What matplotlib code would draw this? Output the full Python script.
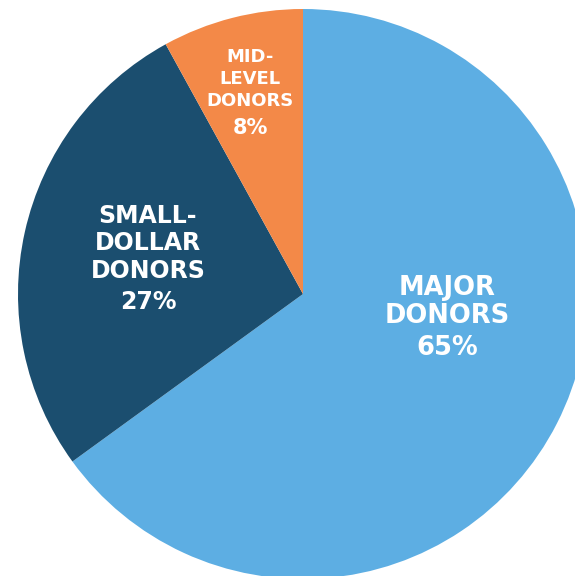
import matplotlib
matplotlib.use("Agg")
import matplotlib.pyplot as plt

# donor share of total giving
segments = ["MAJOR\nDONORS", "SMALL-\nDOLLAR\nDONORS", "MID-\nLEVEL\nDONORS"]
shares = [65, 27, 8]
colors = ["#5DAEE3", "#1B4E6F", "#F38948"]

fig = plt.figure(figsize=(5.75, 5.76), dpi=100)
ax = fig.add_axes([0, 0, 1, 1])

ax.pie(shares, colors=colors, startangle=90, counterclock=False, radius=1.0,
       wedgeprops=dict(linewidth=0))

# label anchors (x, y of first line), line step and font sizes per wedge
spots = [(0.505, 0.022), (-0.544, 0.275), (-0.186, 0.83)]
steps = [0.1, 0.097, 0.076]
name_sizes = [18.5, 17, 13]
pct_sizes = [18.5, 17, 15]

for name, pct, (x, y), step, ns, ps in zip(segments, shares, spots, steps, name_sizes, pct_sizes):
    lines = name.split("\n")
    for i, ln in enumerate(lines):
        ax.text(x, y - i * step, ln, ha="center", va="center", color="white",
                fontsize=ns, fontweight="bold", family="DejaVu Sans")
    ax.text(x, y - len(lines) * step - 0.012 - 0.004 * (ps - ns), f"{pct}%", ha="center", va="center",
            color="white", fontsize=ps, fontweight="bold", family="DejaVu Sans")

ax.set_xlim(-303 / 285, (575 - 303) / 285)
ax.set_ylim(-282 / 285, 294 / 285)
ax.set_aspect("equal")
ax.axis("off")

fig.savefig("out.png", dpi=100)
